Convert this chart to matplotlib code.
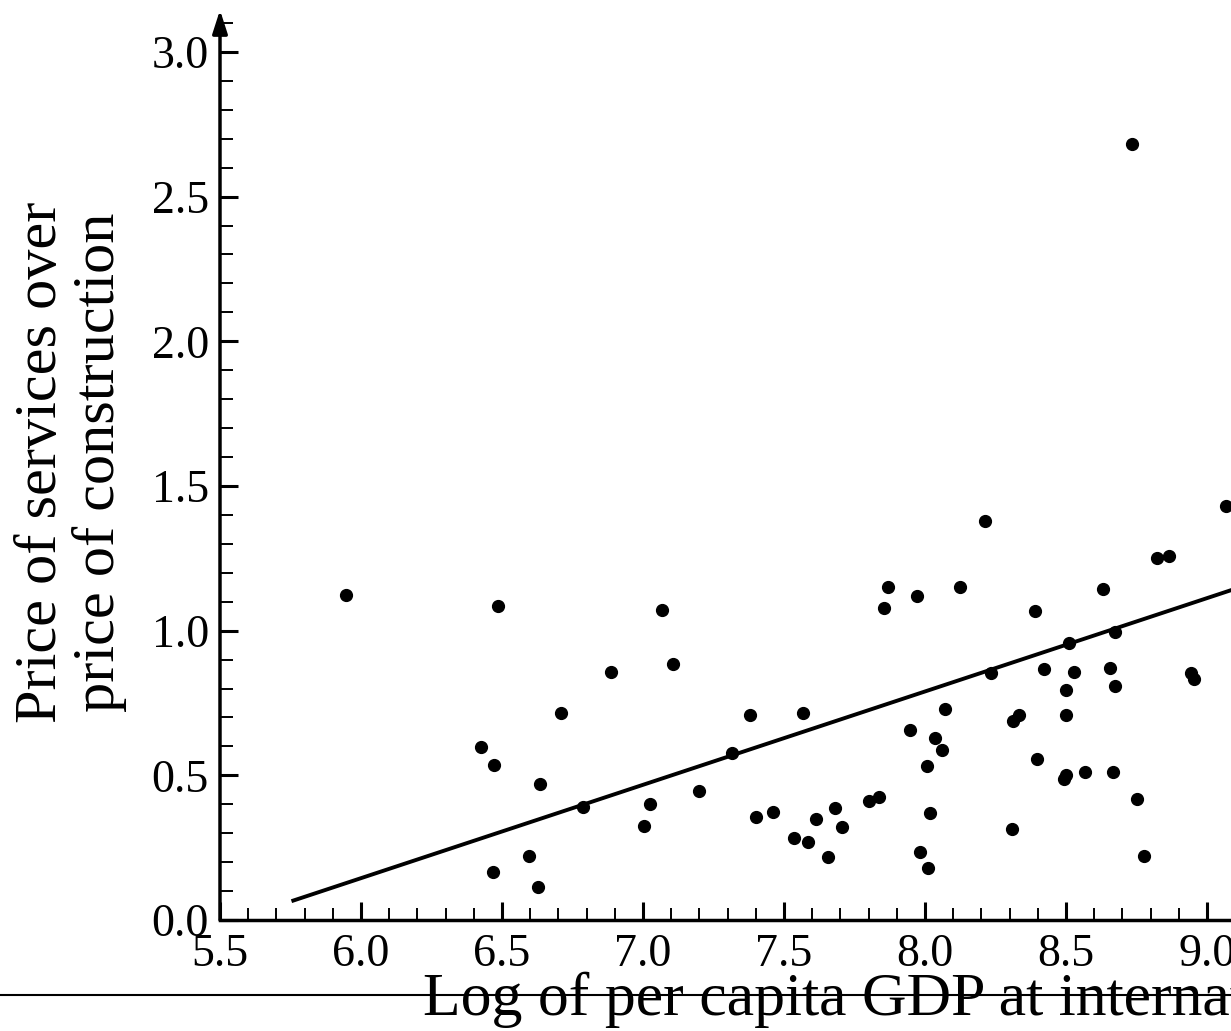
import numpy as np
import matplotlib
matplotlib.use('Agg')
import matplotlib.pyplot as plt
from matplotlib.ticker import MultipleLocator

plt.rcParams['font.family'] = ['Liberation Serif', 'DejaVu Serif']

# log per capita GDP, price ratio
gdp = [5.946, 6.487, 6.887, 6.709, 6.426, 6.473, 6.634, 6.788, 6.597, 6.468,
       6.628, 7.870, 7.973, 7.854, 7.067, 7.106, 7.380, 7.568, 7.947, 7.315,
       8.007, 7.199, 7.026, 7.004, 7.400, 7.460, 7.534, 7.585, 7.613, 7.681,
       7.707, 7.656, 7.800, 7.837, 8.018, 7.981, 8.011, 9.066, 8.214, 8.822,
       8.864, 8.125, 8.631, 8.391, 8.674, 8.511, 8.233, 8.423, 8.527, 8.657,
       8.674, 8.500, 8.943, 8.954, 8.070, 8.311, 8.332, 8.500, 8.035, 8.059,
       8.396, 8.492, 8.501, 8.568, 8.667, 8.751, 8.310, 8.778, 8.734]
ratio = [1.123, 1.086, 0.856, 0.716, 0.599, 0.537, 0.469, 0.392, 0.222, 0.166,
         0.115, 1.152, 1.120, 1.077, 1.071, 0.884, 0.709, 0.714, 0.657, 0.576,
         0.532, 0.445, 0.401, 0.325, 0.357, 0.373, 0.284, 0.271, 0.349, 0.386,
         0.323, 0.219, 0.412, 0.426, 0.369, 0.234, 0.179, 1.432, 1.378, 1.252,
         1.259, 1.150, 1.144, 1.068, 0.997, 0.959, 0.853, 0.868, 0.857, 0.870,
         0.810, 0.795, 0.855, 0.834, 0.729, 0.689, 0.708, 0.708, 0.629, 0.587,
         0.558, 0.488, 0.501, 0.513, 0.511, 0.419, 0.316, 0.222, 2.681]

fit_intercept = -1.791
fit_slope = 0.3226
fit_x = [5.76, 10.0]

fig = plt.figure(figsize=(12.31, 10.31), dpi=100)
# axes run past the right edge of the figure, as in the original crop
ax = fig.add_axes([220/1231, 111/1031, 1269/1231, 910/1031])
ax.set_xlim(5.5, 10.0)
ax.set_ylim(0, 3.145)

ax.plot(gdp, ratio, 'o', color='black', markersize=8.5, zorder=3)
fx = np.array(fit_x)
ax.plot(fx, fit_intercept + fit_slope * fx, color='black', lw=2.8)

for s in ['top', 'right', 'left']:
    ax.spines[s].set_visible(False)
ax.spines['bottom'].set_linewidth(2.5)
ax.annotate('', xy=(5.5, 3.145), xytext=(5.5, 0), xycoords='data',
            arrowprops=dict(arrowstyle='-|>,head_length=1.4,head_width=0.45',
                            lw=2.5, color='black', shrinkA=0, shrinkB=0),
            annotation_clip=False)

ax.xaxis.set_major_locator(MultipleLocator(0.5))
ax.xaxis.set_minor_locator(MultipleLocator(0.1))
ax.yaxis.set_minor_locator(MultipleLocator(0.1))
ax.set_yticks(np.arange(0, 3.01, 0.5))
ax.tick_params(which='both', direction='in', labelsize=33, color='black')
ax.tick_params(which='major', length=13, width=2.2)
ax.tick_params(which='minor', length=9, width=1.4)
ax.tick_params(axis='x', pad=10)
ax.tick_params(axis='y', pad=8)
ax.xaxis.set_major_formatter(matplotlib.ticker.FormatStrFormatter('%.1f'))
ax.yaxis.set_major_formatter(matplotlib.ticker.FormatStrFormatter('%.1f'))

fig.text(71/1231, 1 - 462/1031, 'Price of services over\nprice of construction',
         rotation=90, ha='center', va='center', fontsize=43.5, linespacing=1.05)
fig.text(423/1231, 16/1031, 'Log of per capita GDP at international prices',
         ha='left', va='baseline', fontsize=44.5)
fig.add_artist(plt.Line2D([0, 1], [36/1031, 36/1031], color='black', lw=1.5))

fig.savefig('out.png', dpi=100)
